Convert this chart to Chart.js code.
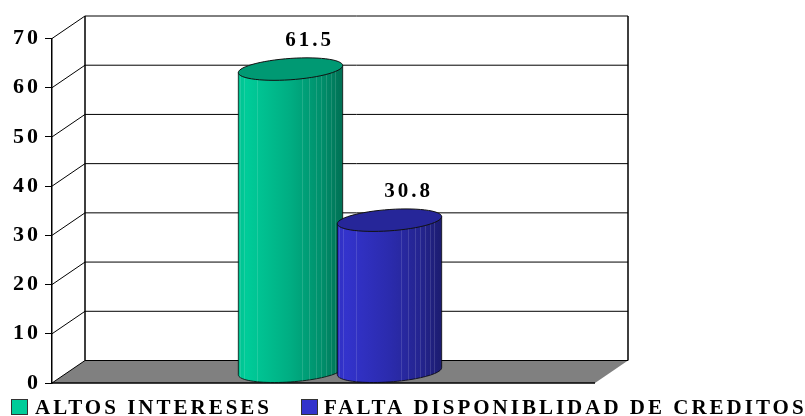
<!DOCTYPE html>
<html>
<head>
<meta charset="utf-8">
<style>
  body { margin: 0; background: #fff; }
  canvas { display: block; }
</style>
<script src="https://cdn.jsdelivr.net/npm/chart.js@4"></script>
</head>
<body>
<canvas id="chart" width="805" height="416"></canvas>
<script>
const categories = [''];
const seriesNames = ['ALTOS INTERESES', 'FALTA DISPONIBLIDAD DE CREDITOS'];
const seriesValues = [61.5, 30.8];
const seriesColors = [[0, 204, 153], [51, 51, 204]];
const yMax = 70;
const yStep = 10;

const FONT = '"Liberation Serif", serif';
const DEPTH_X = 33;
const DEPTH_Y = 22.5;
const stripes = [0.015, 0.05, 0.18, 0.61, 0.68, 0.74, 0.79, 0.84, 0.89, 0.93];
const legendPos = [{ box: 11, text: 35 }, { box: 301, text: 324 }];

function shade(c, f) {
  return `rgb(${c.map(v => Math.round(v * f)).join(',')})`;
}

// depth walls, floor and gridlines, taken from the value scale
function drawBox(chart) {
  const { ctx, chartArea: a, scales } = chart;
  const y = scales.y;
  const y0 = y.getPixelForValue(0);
  ctx.save();
  ctx.fillStyle = '#808080';
  ctx.beginPath();
  ctx.moveTo(a.left, y0);
  ctx.lineTo(a.left + DEPTH_X, y0 - DEPTH_Y);
  ctx.lineTo(a.right + DEPTH_X, y0 - DEPTH_Y);
  ctx.lineTo(a.right, y0);
  ctx.closePath();
  ctx.fill();

  ctx.strokeStyle = '#000';
  ctx.lineWidth = 1;
  y.ticks.forEach(t => {
    const py = y.getPixelForValue(t.value);
    ctx.beginPath();
    ctx.moveTo(a.left, py);
    ctx.lineTo(a.left + DEPTH_X, py - DEPTH_Y);
    ctx.lineTo(a.right + DEPTH_X, py - DEPTH_Y);
    ctx.stroke();
  });
  const top = y.getPixelForValue(yMax) - DEPTH_Y;
  ctx.lineWidth = 1.5;
  ctx.beginPath();
  ctx.moveTo(a.left + DEPTH_X, top);
  ctx.lineTo(a.left + DEPTH_X, y0 - DEPTH_Y);
  ctx.moveTo(a.right + DEPTH_X, top);
  ctx.lineTo(a.right + DEPTH_X, y0 - DEPTH_Y);
  ctx.moveTo(a.left, y0);
  ctx.lineTo(a.right, y0);
  ctx.stroke();
  ctx.restore();
}

function cylinder(ctx, bar, color) {
  const cx = bar.x + DEPTH_X / 2;
  const topY = bar.y - DEPTH_Y / 2;
  const baseY = bar.base - DEPTH_Y / 2;
  const rx = bar.width / 2;
  const sx = DEPTH_X / 2;
  const sy = DEPTH_Y / 2;
  const turn = Math.atan2(sx, rx);
  const px = t => cx + rx * Math.cos(t) + sx * Math.sin(t);
  const py = (t, yc) => yc - sy * Math.sin(t);
  const half = Math.hypot(rx, sx);
  const left = cx - half;

  ctx.save();
  ctx.beginPath();
  for (let i = 0; i <= 40; i++) {
    const t = turn + Math.PI + (Math.PI * i) / 40;
    ctx.lineTo(px(t), py(t, baseY));
  }
  ctx.lineTo(px(turn), py(turn, topY));
  ctx.lineTo(px(turn + Math.PI), py(turn + Math.PI, topY));
  ctx.closePath();

  const grad = ctx.createLinearGradient(left, 0, left + half * 2, 0);
  grad.addColorStop(0, shade(color, 0.95));
  grad.addColorStop(0.08, shade(color, 1));
  grad.addColorStop(0.5, shade(color, 0.85));
  grad.addColorStop(0.8, shade(color, 0.7));
  grad.addColorStop(1, shade(color, 0.55));
  ctx.fillStyle = grad;
  ctx.fill();
  ctx.strokeStyle = 'rgba(0,0,0,0.75)';
  ctx.lineWidth = 1;
  ctx.stroke();

  ctx.save();
  ctx.clip();
  ctx.fillStyle = 'rgba(255,255,255,0.13)';
  stripes.forEach(s => ctx.fillRect(Math.round(left + s * half * 2), topY - sy, 1, baseY - topY + 2 * sy));
  ctx.restore();

  ctx.beginPath();
  for (let i = 0; i <= 60; i++) {
    const t = (Math.PI * 2 * i) / 60;
    ctx.lineTo(px(t), py(t, topY));
  }
  ctx.closePath();
  ctx.fillStyle = shade(color, 0.75);
  ctx.fill();
  ctx.strokeStyle = '#111';
  ctx.stroke();
  ctx.restore();
}

const cylinderPlugin = {
  id: 'cylinders',
  beforeDraw(chart) {
    chart.ctx.letterSpacing = '3px';
    drawBox(chart);
  },
  // the flat bars are replaced by cylinders built on the same elements
  beforeDatasetsDraw(chart) {
    chart.data.datasets.forEach((ds, i) => {
      cylinder(chart.ctx, chart.getDatasetMeta(i).data[0], seriesColors[i]);
    });
    return false;
  },
  afterDraw(chart) {
    const { ctx } = chart;
    ctx.save();
    ctx.fillStyle = '#000';
    ctx.textBaseline = 'alphabetic';
    ctx.textAlign = 'center';
    ctx.font = `bold 21px ${FONT}`;
    ctx.letterSpacing = '3px';
    chart.data.datasets.forEach((ds, i) => {
      const bar = chart.getDatasetMeta(i).data[0];
      ctx.fillText(ds.data[0].toFixed(1), bar.x + DEPTH_X / 2 + 19, bar.y - 34);
    });

    ctx.textAlign = 'left';
    chart.data.datasets.forEach((ds, i) => {
      ctx.fillStyle = ds.backgroundColor;
      ctx.fillRect(legendPos[i].box, 399, 17, 16);
      ctx.strokeStyle = '#333';
      ctx.strokeRect(legendPos[i].box + 0.5, 399.5, 16, 15);
      ctx.fillStyle = '#000';
      ctx.fillText(ds.label, legendPos[i].text, 414);
    });
    ctx.restore();
  },
};

new Chart(document.getElementById('chart').getContext('2d'), {
  type: 'bar',
  plugins: [cylinderPlugin],
  data: {
    labels: categories,
    datasets: seriesNames.map((name, i) => ({
      label: name,
      data: [seriesValues[i]],
      backgroundColor: shade(seriesColors[i], 1),
    })),
  },
  options: {
    responsive: false,
    animation: false,
    layout: { padding: { top: 38.5, right: 210, bottom: 33, left: 0 } },
    plugins: {
      legend: { display: false },
      tooltip: { enabled: false },
    },
    datasets: { bar: { barPercentage: 1, categoryPercentage: 198 / 543 } },
    scales: {
      x: { display: false },
      y: {
        min: 0,
        max: yMax,
        afterFit: scale => { scale.width = 52; },
        ticks: {
          stepSize: yStep,
          color: '#000',
          padding: 4,
          font: { family: FONT, size: 22, weight: 'bold' },
        },
        grid: { drawOnChartArea: false, tickLength: 7, color: '#000' },
        border: { color: '#000', width: 1.5 },
      },
    },
  },
});
</script>
</body>
</html>
